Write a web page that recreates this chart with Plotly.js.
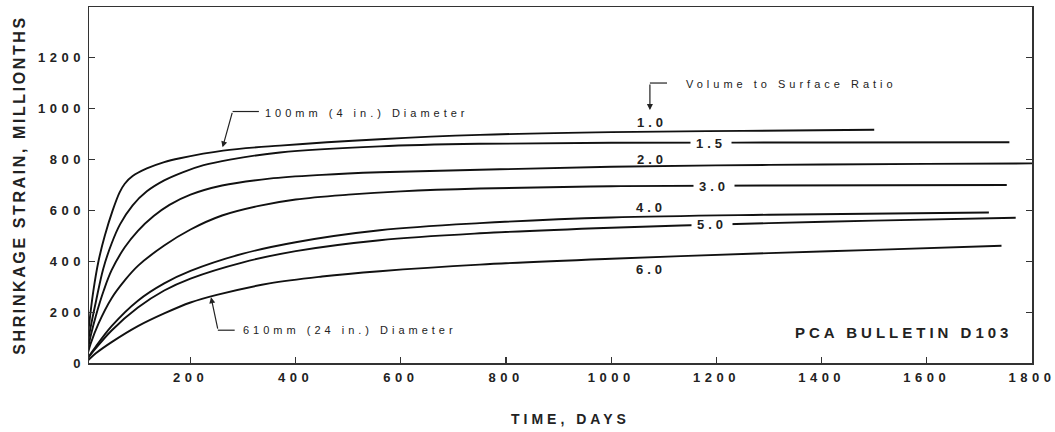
<!DOCTYPE html>
<html>
<head>
<meta charset="utf-8">
<script src="https://cdn.plot.ly/plotly-3.0.1.min.js"></script>
<style>
  body { margin: 0; background: #fff; }
  #chart { width: 1055px; height: 432px; }
  .xtick text, .ytick text { letter-spacing: 4.5px; }
  .ytitle { letter-spacing: 2.6px; }
  .annotation-text { letter-spacing: 4px; }
</style>
</head>
<body>
<div id="chart"></div>
<script>
// Volume-to-surface ratio series (time in days, shrinkage strain in millionths)
const ratios = ["1.0", "1.5", "2.0", "3.0", "4.0", "5.0", "6.0"];

const days_10   = [0, 5, 10, 15, 25, 37, 52, 65, 75, 90, 117, 150, 180, 262, 370, 560, 750, 1000, 1250, 1500];
const strain_10 = [0, 110, 200, 280, 400, 500, 600, 670, 705, 735, 765, 790, 805, 835, 855, 880, 897, 908, 913, 917];

const days_15   = [0, 5, 10, 20, 34, 50, 66, 90, 117, 150, 185, 225, 275, 370, 560, 750, 1000, 1400, 1757];
const strain_15 = [0, 80, 140, 240, 370, 470, 545, 620, 675, 718, 750, 778, 800, 828, 852, 862, 866, 867, 868];

const days_20   = [0, 5, 10, 20, 35, 50, 75, 100, 130, 160, 200, 260, 350, 450, 560, 750, 1000, 1300, 1600, 1800];
const strain_20 = [0, 55, 105, 185, 285, 365, 455, 520, 578, 622, 662, 698, 725, 740, 750, 760, 772, 779, 783, 785];

const days_30   = [0, 5, 10, 25, 50, 75, 100, 150, 200, 260, 330, 400, 500, 600, 750, 1000, 1300, 1752];
const strain_30 = [0, 40, 75, 155, 255, 325, 382, 462, 525, 580, 618, 643, 662, 675, 686, 695, 698, 700];

const days_40   = [0, 5, 20, 50, 100, 150, 200, 300, 400, 560, 750, 1000, 1300, 1718];
const strain_40 = [0, 20, 65, 145, 245, 313, 362, 430, 475, 522, 550, 572, 583, 592];

const days_50   = [0, 5, 20, 50, 100, 150, 200, 300, 400, 560, 750, 1000, 1300, 1500, 1769];
const strain_50 = [0, 18, 58, 128, 218, 285, 332, 396, 440, 483, 510, 532, 550, 560, 571];

const days_60   = [0, 5, 20, 50, 100, 150, 200, 250, 350, 450, 560, 750, 1000, 1300, 1500, 1742];
const strain_60 = [0, 10, 38, 82, 145, 195, 238, 268, 313, 340, 361, 387, 410, 432, 445, 461];

const xTickVals = [200, 400, 600, 800, 1000, 1200, 1400, 1600, 1800];
const yTickVals = [0, 200, 400, 600, 800, 1000, 1200];

const seriesDays = [days_10, days_15, days_20, days_30, days_40, days_50, days_60];
const seriesStrain = [strain_10, strain_15, strain_20, strain_30, strain_40, strain_50, strain_60];

const traces = ratios.map((r, i) => ({
  x: seriesDays[i],
  y: seriesStrain[i],
  type: 'scatter',
  mode: 'lines',
  name: r,
  line: { color: '#111', width: 1.9, shape: 'spline', smoothing: 1 },
  hoverinfo: 'skip'
}));

const FONT = 'Liberation Sans, Arial, sans-serif';
const labelFont = { family: FONT, size: 13, color: '#222', weight: 'bold' };
const noteFont = { family: FONT, size: 11, color: '#222' };

function ratioLabel(text, x, y, gap) {
  const a = {
    x: x, y: y, xref: 'x', yref: 'y', text: text, showarrow: false,
    font: labelFont, xanchor: 'center', yanchor: 'middle'
  };
  if (gap) { a.bgcolor = '#ffffff'; a.borderpad = 0; a.height = 9; a.width = 40; }
  return a;
}

const annotations = [
  ratioLabel('1.0', 1077, 947, false),
  ratioLabel('1.5', 1189, 865, true),
  ratioLabel('2.0', 1077, 800, false),
  ratioLabel('3.0', 1195, 696, true),
  ratioLabel('4.0', 1075, 611, false),
  ratioLabel('5.0', 1191, 545, true),
  ratioLabel('6.0', 1075, 368, false),
  { x: 1138, y: 1097, xref: 'x', yref: 'y', text: 'Volume to Surface Ratio', showarrow: false,
    font: noteFont, xanchor: 'left', yanchor: 'middle' },
  { x: 1073.5, y: 995, xref: 'x', yref: 'y', text: '', showarrow: true, ax: 0, ay: -27,
    arrowhead: 2, arrowsize: 1, arrowwidth: 1.2, arrowcolor: '#222' },
  { x: 338, y: 983, xref: 'x', yref: 'y', text: '100mm (4 in.) Diameter', showarrow: false,
    font: noteFont, xanchor: 'left', yanchor: 'middle' },
  { x: 261, y: 848, xref: 'x', yref: 'y', text: '', showarrow: true, ax: 10, ay: -36,
    arrowhead: 2, arrowsize: 1, arrowwidth: 1.2, arrowcolor: '#222' },
  { x: 296, y: 128, xref: 'x', yref: 'y', text: '610mm (24 in.) Diameter', showarrow: false,
    font: noteFont, xanchor: 'left', yanchor: 'middle' },
  { x: 239, y: 259, xref: 'x', yref: 'y', text: '', showarrow: true, ax: 7, ay: 33,
    arrowhead: 2, arrowsize: 1, arrowwidth: 1.2, arrowcolor: '#222' },
  { x: 1765, y: 120, xref: 'x', yref: 'y', text: 'PCA BULLETIN D103', showarrow: false,
    font: { family: FONT, size: 15, color: '#222', weight: 'bold' },
    xanchor: 'right', yanchor: 'middle' },
  // x-axis title
  { x: 0.511, y: -0.157, xref: 'paper', yref: 'paper', text: 'TIME, DAYS', showarrow: false,
    font: { family: FONT, size: 14, color: '#222', weight: 'bold' }, xanchor: 'center', yanchor: 'middle' }
];

const shapes = [
  { type: 'line', xref: 'x', yref: 'y', x0: 1073.5, x1: 1106, y0: 1101, y1: 1101, line: { color: '#222', width: 1.2 } },
  { type: 'line', xref: 'x', yref: 'y', x0: 280, x1: 330, y0: 989, y1: 989, line: { color: '#222', width: 1.2 } },
  { type: 'line', xref: 'x', yref: 'y', x0: 252, x1: 284, y0: 129, y1: 129, line: { color: '#222', width: 1.2 } }
];

const layout = {
  width: 1055, height: 432,
  margin: { l: 89, r: 23, t: 7, b: 69 },
  paper_bgcolor: '#fff', plot_bgcolor: '#fff',
  showlegend: false,
  xaxis: {
    range: [7, 1800], tickvals: xTickVals, ticks: 'inside', ticklen: 6, tickwidth: 1.2, tickcolor: '#333',
    showline: true, linecolor: '#333', linewidth: 1.5, mirror: true, showgrid: false, zeroline: false,
    tickfont: labelFont, ticklabelstandoff: 2, ticklabeloverflow: 'allow'
  },
  yaxis: {
    range: [0, 1400], tickvals: yTickVals, ticks: 'inside', ticklen: 6, tickwidth: 1.2, tickcolor: '#333',
    showline: true, linecolor: '#333', linewidth: 1.5, mirror: 'ticks', showgrid: false, zeroline: false,
    tickfont: labelFont,
    title: { text: 'SHRINKAGE STRAIN, MILLIONTHS', font: { family: FONT, size: 16, color: '#222', weight: 'bold' }, standoff: 8 }
  },
  annotations: annotations,
  shapes: shapes
};

Plotly.newPlot('chart', traces, layout, { displayModeBar: false, staticPlot: true });
</script>
</body>
</html>
